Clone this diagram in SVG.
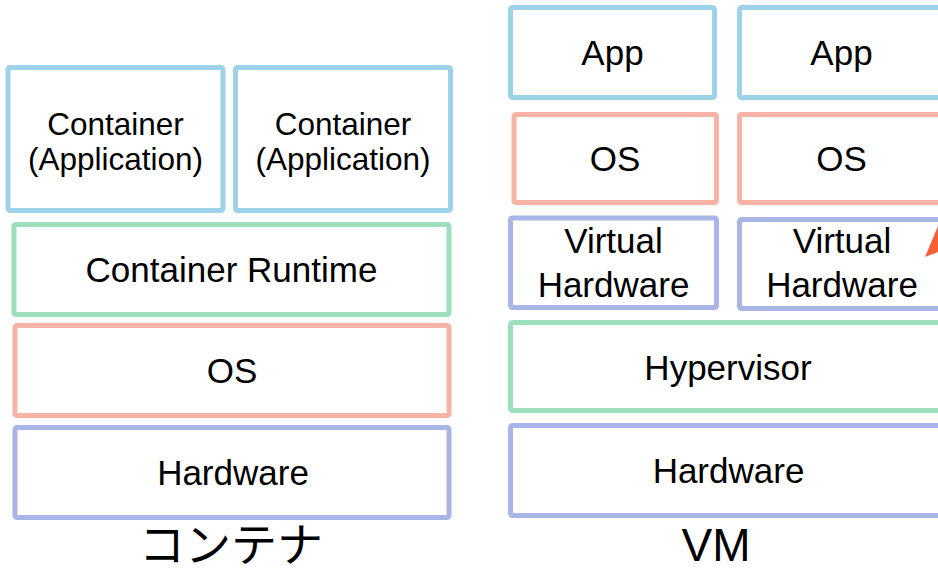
<svg xmlns="http://www.w3.org/2000/svg" width="938" height="570" viewBox="0 0 938 570">
  <style>
    .box { fill: #ffffff; stroke-width: 5; }
    .app { stroke: #9dd3e8; }
    .os { stroke: #f7b4a6; }
    .rt { stroke: #9ddfbd; }
    .hw { stroke: #a9b5e8; }
    .t { font-family: "Liberation Sans", Arial, sans-serif; font-size: 35px; fill: #000000; text-anchor: middle; }
    .s { font-size: 31.5px; }
    .cap { font-family: "Liberation Sans", "Noto Sans CJK JP", sans-serif; font-size: 46px; fill: #000000; text-anchor: middle; }
  </style>
  <rect width="938" height="570" fill="#ffffff"/>

  <!-- Container stack -->
  <g id="container-app-1">
    <rect class="box app" x="8" y="67.5" width="215" height="143" rx="2"/>
    <text class="t s" x="115.5" y="135">Container</text>
    <text class="t s" x="115.5" y="170">(Application)</text>
  </g>
  <g id="container-app-2">
    <rect class="box app" x="235.5" y="67.5" width="215" height="143" rx="2"/>
    <text class="t s" x="343" y="135">Container</text>
    <text class="t s" x="343" y="170">(Application)</text>
  </g>
  <g id="container-runtime">
    <rect class="box rt" x="14" y="224.5" width="435" height="90" rx="2"/>
    <text class="t" x="231.5" y="282">Container Runtime</text>
  </g>
  <g id="container-os">
    <rect class="box os" x="15" y="325.5" width="434" height="90" rx="2"/>
    <text class="t" x="232" y="383">OS</text>
  </g>
  <g id="container-hardware">
    <rect class="box hw" x="15" y="427.5" width="434" height="90" rx="2"/>
    <text class="t" x="233" y="485">Hardware</text>
  </g>
  <text class="cap" x="231" y="561">コンテナ</text>

  <!-- VM stack -->
  <g id="vm-app-1">
    <rect class="box app" x="510.5" y="7.5" width="204" height="90" rx="2"/>
    <text class="t" x="612.5" y="65">App</text>
  </g>
  <g id="vm-app-2">
    <rect class="box app" x="739.5" y="7.5" width="204" height="90" rx="2"/>
    <text class="t" x="841.5" y="65">App</text>
  </g>
  <g id="vm-os-1">
    <rect class="box os" x="514" y="114.5" width="202.5" height="88" rx="2"/>
    <text class="t" x="615" y="171">OS</text>
  </g>
  <g id="vm-os-2">
    <rect class="box os" x="739.5" y="114.5" width="204" height="88" rx="2"/>
    <text class="t" x="841.5" y="171">OS</text>
  </g>
  <g id="vm-vhw-1">
    <rect class="box hw" x="510.5" y="218" width="206" height="89.5" rx="2"/>
    <text class="t" x="613.5" y="253">Virtual</text>
    <text class="t" x="613.5" y="297">Hardware</text>
  </g>
  <g id="vm-vhw-2">
    <rect class="box hw" x="739.5" y="219.5" width="204" height="89" rx="2"/>
    <text class="t" x="842" y="253">Virtual</text>
    <text class="t" x="842" y="297">Hardware</text>
  </g>
  <g id="vm-hypervisor">
    <rect class="box rt" x="510.5" y="322.5" width="436" height="88" rx="2"/>
    <text class="t" x="728" y="380">Hypervisor</text>
  </g>
  <g id="vm-hardware">
    <rect class="box hw" x="510.5" y="425.5" width="436" height="90" rx="2"/>
    <text class="t" x="728.5" y="483">Hardware</text>
  </g>
  <text class="t" style="font-size:46px" x="716" y="561">VM</text>

  <g id="connectors">
    <polygon points="925,257 938,226 938,252" fill="#f5603a"/>
  </g>
</svg>
